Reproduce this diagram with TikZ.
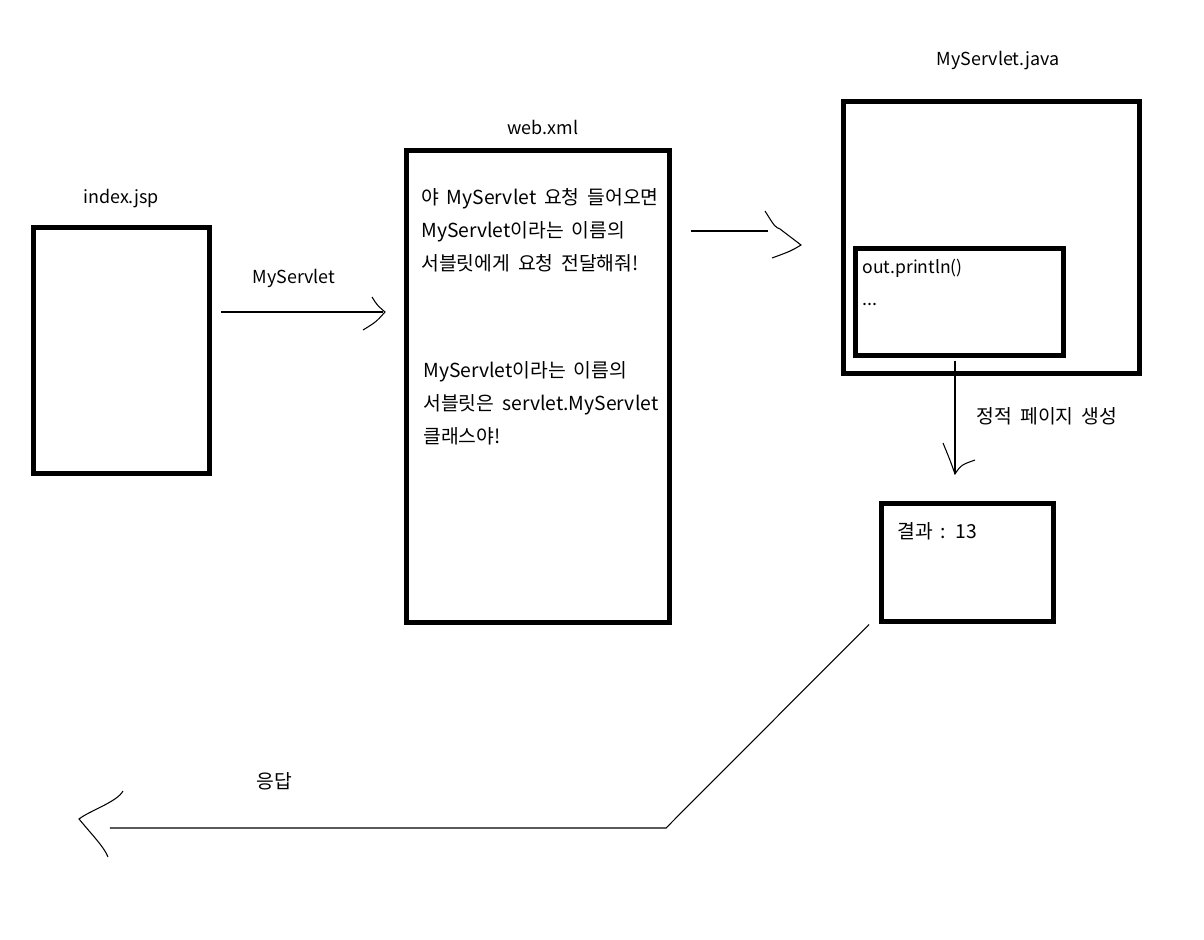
\documentclass[tikz,border=0pt]{standalone}
\usepackage{fontspec}
\setmainfont[WordSpace=1.8]{Noto Sans CJK KR}

\begin{document}
\begin{tikzpicture}[x=0.02cm, y=-0.02cm,
		box/.style={draw, line width=0.1cm, inner sep=0pt},
		wire/.style={line width=0.6pt},
		txt/.style={font=\fontsize{11}{18.8}\selectfont, inner sep=0pt},
		latin/.style={font=\fontsize{10.2}{18.8}\selectfont, inner sep=0pt}]
		\useasboundingbox (0, 0) rectangle (1204, 940);
		
		\node [box, minimum width=3.53cm, minimum height=4.94cm] (jsp) at (121.75, 350.5) {}; % 상자들
		\node [box, minimum width=5.26cm, minimum height=9.45cm] (webxml) at (538, 386.75) {};
		\node [box, minimum width=5.93cm, minimum height=5.46cm] (servlet) at (991.75, 237.5) {};
		\node [box, minimum width=4.16cm, minimum height=2.14cm] (printbox) at (959.5, 302) {};
		\node [box, minimum width=3.45cm, minimum height=2.37cm] (result) at (967.25, 562.75) {};
		
		\node [latin] (jspname) at (121, 199) {index.jsp}; % 이름
		\node [latin] (webname) at (543, 127) {web.xml};
		\node [latin] (javaname) at (998, 61) {MyServlet.java};
		
		\node [txt, anchor=north west, align=left] (mapping) at (421, 188) {야 MyServlet 요청 들어오면\\MyServlet이라는 이름의\\서블릿에게 요청 전달해줘!}; % web.xml 내용
		\node [txt, anchor=north west, align=left] (classname) at (423, 361) {MyServlet이라는 이름의\\서블릿은 servlet.MyServlet\\클래스야!};
		\node [latin, anchor=west, font=\fontsize{10}{18.8}\selectfont] (println) at (862, 268) {out.println()};
		\node [latin, anchor=base west] (dots) at (862, 305) {...};
		\node [txt, anchor=west] (value) at (897, 531) {결과 : 13};
		
		\node [latin] (reqlabel) at (294, 278) {MyServlet}; % 화살표 글자
		\node [txt] (genlabel) at (1047, 416) {정적 페이지 생성};
		\node [txt] (resplabel) at (274, 781) {응답};
		
		\coordinate (tip1) at (385, 312); % 요청
		\draw [wire, shorten <=0.17cm, shorten >=0.04cm] (jsp.east |- tip1) -- (tip1);
		\draw [wire] ([shift={(-13,-15)}]tip1) .. controls ([shift={(-8,-7)}]tip1) .. (tip1) .. controls ([shift={(-9,10)}]tip1) .. ([shift={(-22,18)}]tip1);
		
		\coordinate (lvl2) at (0, 231); % 서블릿 호출
		\coordinate (tip2) at (801, 245);
		\draw [wire, shorten <=0.38cm, shorten >=1.46cm] (webxml.east |- lvl2) -- (servlet.west |- lvl2);
		\draw [wire] ([shift={(-36,-34)}]tip2) .. controls ([shift={(-26,-18)}]tip2) .. ([shift={(-21,-16)}]tip2) -- (tip2) .. controls ([shift={(-10,6)}]tip2) .. ([shift={(-29,13)}]tip2);
		
		\coordinate (tip3) at (955, 474); % 정적 페이지 생성
		\draw [wire, shorten <=0.06cm] (printbox.south -| tip3) -- (tip3);
		\draw [wire] ([shift={(-12,-31)}]tip3) .. controls ([shift={(-5,-14)}]tip3) .. (tip3) .. controls ([shift={(6,-9)}]tip3) .. ([shift={(20,-14)}]tip3);
		
		\coordinate (bend) at (666, 828); % 응답
		\coordinate (tip4) at (79, 819);
		\draw [wire, shorten >=0.62cm] ([xshift=-0.19cm]result.south west) -- (bend) -- (bend -| tip4);
		\draw [wire] ([shift={(44,-28)}]tip4) .. controls ([shift={(38,-17)}]tip4) and ([shift={(10,-8)}]tip4) .. (tip4) .. controls ([shift={(15,18)}]tip4) and ([shift={(25,28)}]tip4) .. ([shift={(29,38)}]tip4);
	\end{tikzpicture}
\end{document}
